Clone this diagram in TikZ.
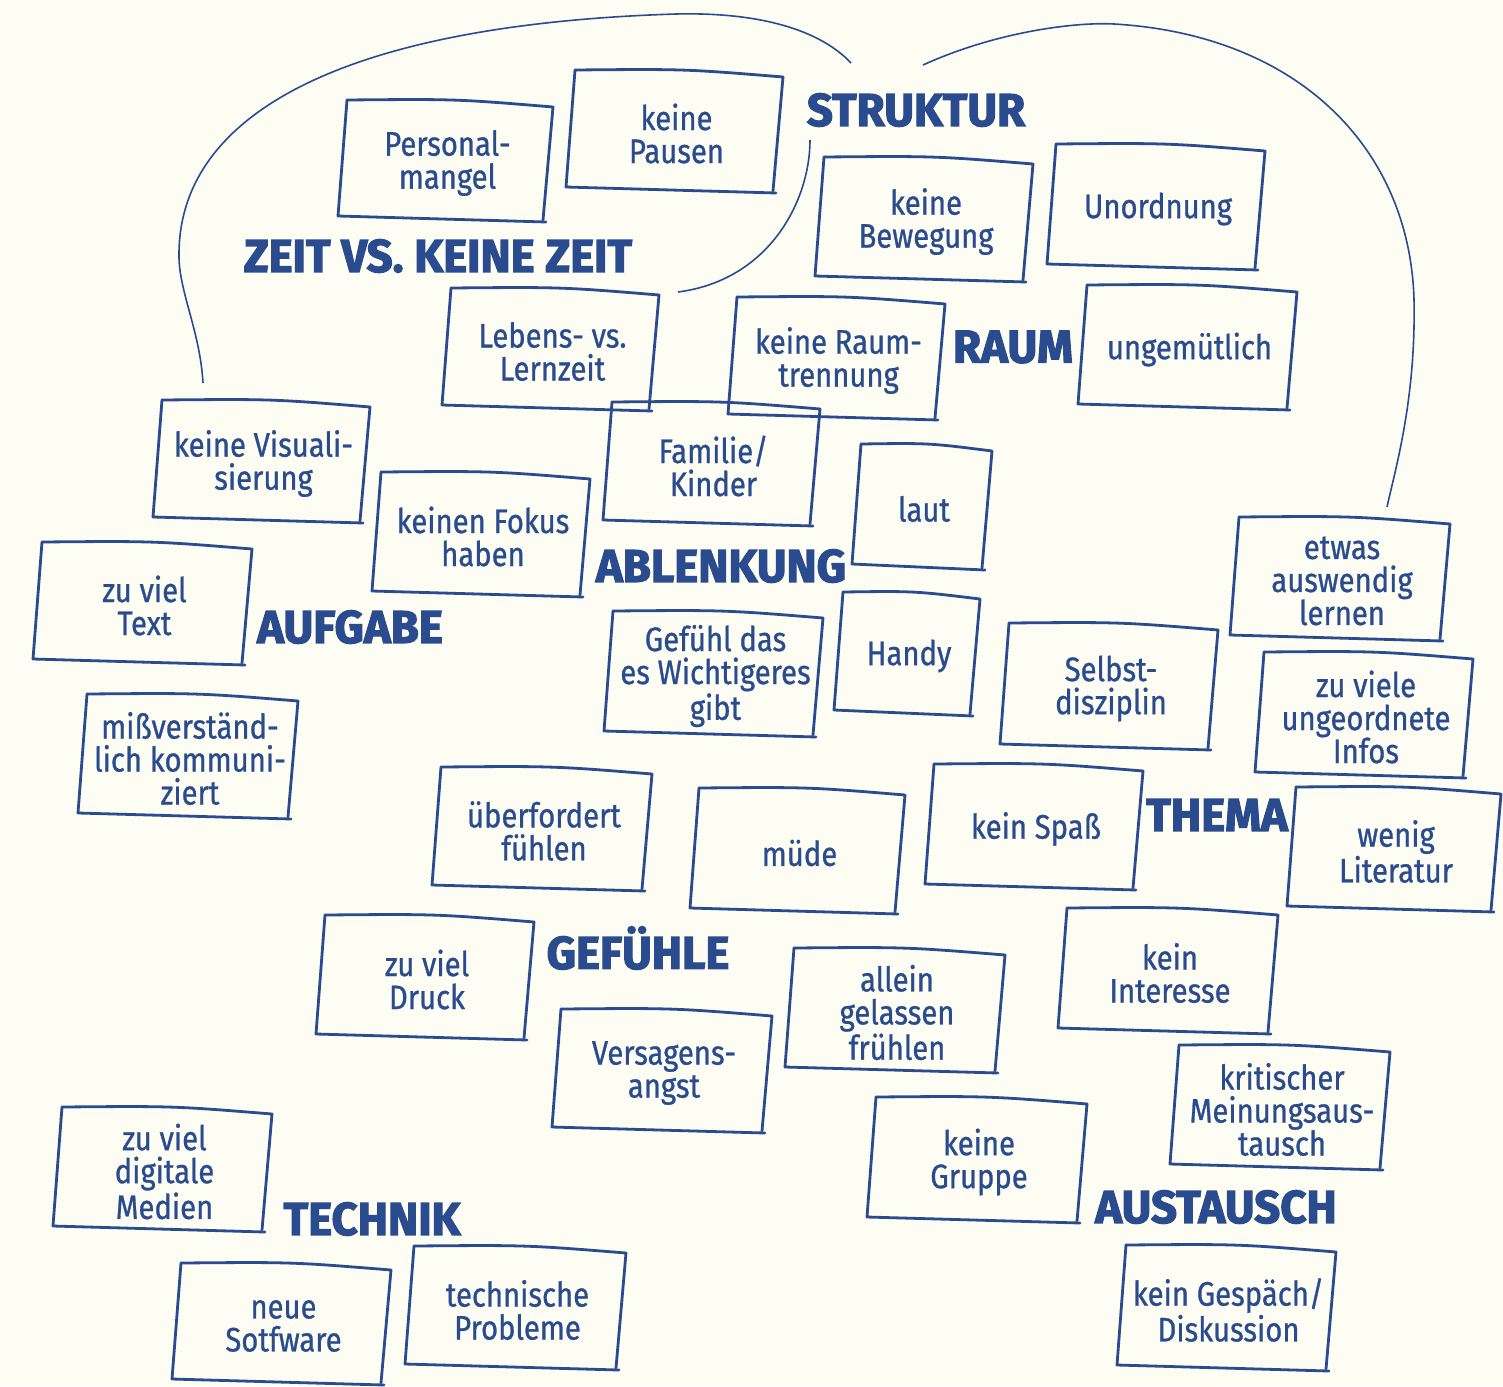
\documentclass[tikz,border=0pt]{standalone}
\usepackage{fontspec}
\setmainfont{Fira Sans}[FakeStretch=0.86, FakeBold=0.8]
\newfontfamily\headfont{Fira Sans}[FakeStretch=0.99, BoldFeatures={FakeBold=2.6}]
\definecolor{ink}{HTML}{2A4B8D}
\definecolor{paper}{HTML}{FDFDF4}
\tikzset{
  boxline/.style={draw=ink, line width=1.4pt, line cap=round, line join=round},
  boxtext/.style={text=ink, align=center, font=\fontsize{17}{16.5}\selectfont, inner sep=0pt},
  head/.style={text=ink, font=\headfont\bfseries\fontsize{23}{23}\selectfont, inner sep=0pt},
  loop/.style={draw=ink, line width=0.8pt}
}
\newcommand{\notebox}[6]{%
  \begin{scope}[shift={(#2,#3)}]
    \draw[boxline] (9,0) .. controls ({0.55*#4},-1) .. (#4,7) -- ({#4-10},{#5-2});
    \draw[boxline] (9,0) -- (0,{#5-6}) -- ({#4-7},#5);
    \node[boxtext] (#1) at ({#4/2+2},{#5/2+2}) {#6};
  \end{scope}}
\begin{document}
\begin{tikzpicture}[x=0.5pt,y=-0.5pt]
\fill[paper] (0,0) rectangle (1503,1386);
\useasboundingbox (0,0) rectangle (1503,1386);
% loops
\draw[loop] (203,383) .. controls (200,330) and (178,290) .. (179,253)
  .. controls (180,120) and (330,25) .. (676,14)
  .. controls (760,12) and (820,30) .. (851,63);
\draw[loop] (810,140) .. controls (810,200) and (770,280) .. (678,292);
\draw[loop] (923,65) .. controls (1000,30) and (1080,22) .. (1114,24)
  .. controls (1300,35) and (1410,150) .. (1414,300)
  .. controls (1416,400) and (1395,470) .. (1387,507);
% headings
\node[head] (hstruktur) at (916,110) {STRUKTUR};
\node[head] (hzeit) at (438,256) {ZEIT VS. KEINE ZEIT};
\node[head] (hraum) at (1013,347) {RAUM};
\node[head] (hablenkung) at (721,566) {ABLENKUNG};
\node[head] (haufgabe) at (350,627) {AUFGABE};
\node[head] (hthema) at (1217,815) {THEMA};
\node[head] (hgefuehle) at (638,948) {GEFÜHLE};
\node[head] (htechnik) at (372,1219) {TECHNIK};
\node[head] (haustausch) at (1216,1207) {AUSTAUSCH};
% boxes
\notebox{pers}{338}{100}{215}{122}{Personal-\\mangel}
\notebox{pause}{566}{70}{217}{123}{keine\\Pausen}
\notebox{beweg}{815}{157}{218}{125}{keine\\Bewegung}
\notebox{unord}{1047}{144}{218}{126}{Unordnung}
\notebox{leben}{442}{288}{217}{123}{Lebens- vs.\\Lernzeit}
\notebox{raumtr}{728}{297}{217}{123}{keine Raum-\\trennung}
\notebox{ungem}{1078}{285}{219}{125}{ungemütlich}
\notebox{visu}{153}{400}{217}{123}{keine Visuali-\\sierung}
\notebox{famil}{603}{402}{217}{124}{Familie/\\Kinder}
\notebox{laut}{852}{444}{140}{126}{laut}
\notebox{fokus}{372}{472}{218}{125}{keinen Fokus\\haben}
\notebox{text}{33}{542}{219}{123}{zu viel\\Text}
\notebox{ausw}{1230}{517}{220}{124}{etwas\\auswendig\\lernen}
\notebox{wicht}{604}{611}{219}{126}{Gefühl das\\es Wichtigeres\\gibt}
\notebox{handy}{834}{592}{146}{124}{Handy}
\notebox{selbst}{1000}{623}{218}{127}{Selbst-\\disziplin}
\notebox{infos}{1255}{652}{218}{126}{zu viele\\ungeordnete\\Infos}
\notebox{miss}{78}{694}{220}{125}{mißverständ-\\lich kommuni-\\ziert}
\notebox{ueber}{432}{767}{220}{124}{überfordert\\fühlen}
\notebox{muede}{690}{788}{215}{126}{müde}
\notebox{spass}{925}{764}{218}{126}{kein Spaß}
\notebox{lit}{1287}{787}{214}{125}{wenig\\Literatur}
\notebox{druck}{316}{915}{218}{125}{zu viel\\Druck}
\notebox{inter}{1058}{908}{220}{126}{kein\\Interesse}
\notebox{allein}{785}{948}{220}{125}{allein\\gelassen\\frühlen}
\notebox{versag}{552}{1009}{220}{124}{Versagens-\\angst}
\notebox{krit}{1170}{1045}{220}{125}{kritischer\\Meinungsaus-\\tausch}
\notebox{digi}{53}{1107}{219}{125}{zu viel\\digitale\\Medien}
\notebox{grupp}{867}{1097}{220}{126}{keine\\Gruppe}
\notebox{tech}{405}{1246}{221}{124}{technische\\Probleme}
\notebox{soft}{172}{1263}{219}{122}{neue\\Sotfware}
\notebox{gesp}{1117}{1245}{219}{126}{kein Gespäch/\\Diskussion}
\end{tikzpicture}
\end{document}
